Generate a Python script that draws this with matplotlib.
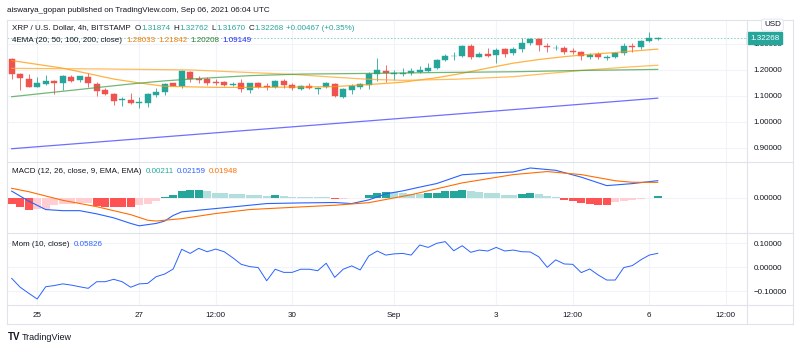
import numpy as np
import pandas as pd
import matplotlib
matplotlib.use('Agg')
import matplotlib.pyplot as plt
from matplotlib.lines import Line2D
import matplotlib.transforms as mtransforms

plt.rcParams['font.family'] = ['Liberation Sans', 'DejaVu Sans']

# ---- data (XRP/USD 4h) ----
start = pd.Timestamp('2021-08-24 12:00')
opens = [1.241, 1.185, 1.165, 1.136, 1.147, 1.159, 1.149, 1.174, 1.162, 1.174,
         1.146, 1.123, 1.108, 1.085, 1.085, 1.072, 1.074, 1.104, 1.117, 1.148,
         1.140, 1.191, 1.167, 1.164, 1.154, 1.153, 1.141, 1.151, 1.123, 1.149,
         1.138, 1.133, 1.159, 1.143, 1.126, 1.138, 1.128, 1.133, 1.146, 1.097,
         1.123, 1.136, 1.142, 1.183, 1.196, 1.184, 1.185, 1.187, 1.192, 1.196,
         1.207, 1.238, 1.253, 1.254, 1.292, 1.251, 1.262, 1.258, 1.281, 1.267,
         1.281, 1.305, 1.318, 1.292, 1.284, 1.283, 1.273, 1.268, 1.251, 1.260,
         1.247, 1.251, 1.264, 1.292, 1.290, 1.312, 1.31874]
highs = [1.245, 1.188, 1.184, 1.174, 1.181, 1.161, 1.179, 1.180, 1.178, 1.187,
         1.153, 1.131, 1.110, 1.097, 1.113, 1.097, 1.110, 1.131, 1.150, 1.151,
         1.198, 1.197, 1.177, 1.174, 1.164, 1.158, 1.155, 1.167, 1.151, 1.155,
         1.148, 1.161, 1.166, 1.151, 1.142, 1.148, 1.133, 1.153, 1.151, 1.129,
         1.145, 1.150, 1.193, 1.245, 1.219, 1.200, 1.207, 1.207, 1.217, 1.228,
         1.241, 1.262, 1.270, 1.296, 1.300, 1.268, 1.285, 1.283, 1.285, 1.287,
         1.324, 1.324, 1.322, 1.303, 1.294, 1.291, 1.284, 1.273, 1.265, 1.270,
         1.258, 1.268, 1.305, 1.305, 1.317, 1.347, 1.32762]
lows = [1.165, 1.123, 1.135, 1.136, 1.142, 1.108, 1.123, 1.154, 1.155, 1.136,
        1.101, 1.104, 1.065, 1.063, 1.069, 1.053, 1.059, 1.097, 1.104, 1.138,
        1.130, 1.154, 1.151, 1.141, 1.141, 1.138, 1.138, 1.115, 1.111, 1.131,
        1.123, 1.131, 1.131, 1.121, 1.124, 1.126, 1.107, 1.129, 1.095, 1.091,
        1.108, 1.127, 1.127, 1.159, 1.153, 1.161, 1.178, 1.180, 1.190, 1.191,
        1.204, 1.235, 1.238, 1.250, 1.241, 1.250, 1.250, 1.226, 1.250, 1.258,
        1.270, 1.296, 1.274, 1.270, 1.277, 1.263, 1.262, 1.238, 1.242, 1.242,
        1.240, 1.245, 1.256, 1.268, 1.280, 1.309, 1.31670]
closes = [1.184, 1.169, 1.136, 1.149, 1.158, 1.151, 1.177, 1.159, 1.177, 1.149,
          1.120, 1.108, 1.082, 1.088, 1.072, 1.078, 1.108, 1.117, 1.145, 1.140,
          1.194, 1.165, 1.163, 1.151, 1.150, 1.142, 1.147, 1.128, 1.149, 1.136,
          1.133, 1.158, 1.141, 1.129, 1.138, 1.131, 1.131, 1.149, 1.100, 1.127,
          1.138, 1.144, 1.183, 1.199, 1.187, 1.187, 1.190, 1.195, 1.199, 1.209,
          1.238, 1.254, 1.255, 1.292, 1.251, 1.262, 1.255, 1.277, 1.262, 1.281,
          1.305, 1.318, 1.296, 1.287, 1.286, 1.270, 1.268, 1.254, 1.258, 1.249,
          1.251, 1.264, 1.292, 1.290, 1.312, 1.322, 1.32268]

# EMA lines (candle index, value)
ema20_i = [0, 6, 12, 15, 18, 24, 30, 38, 43, 46, 50, 53, 56, 59, 62, 65, 68, 71, 74, 76]
ema20_v = [1.236, 1.207, 1.165, 1.150, 1.137, 1.133, 1.133, 1.136, 1.146, 1.153,
           1.170, 1.187, 1.207, 1.226, 1.240, 1.251, 1.260, 1.267, 1.275, 1.280]
ema50_i = [0, 10, 21, 28, 33, 38, 42, 46, 52, 59, 63, 67, 72, 76]
ema50_v = [1.206, 1.204, 1.200, 1.190, 1.183, 1.172, 1.164, 1.160, 1.164, 1.174,
           1.186, 1.198, 1.210, 1.218]
ema100_i = [0, 8, 14, 18, 22, 28, 34, 43, 50, 59, 67, 76]
ema100_v = [1.097, 1.125, 1.146, 1.158, 1.167, 1.178, 1.184, 1.187, 1.190, 1.193,
            1.198, 1.202]
ema200_i = [0, 20, 40, 60, 76]
ema200_v = [0.897, 0.948, 0.999, 1.050, 1.0915]

# MACD
hist = [-0.0079, -0.0113, -0.0146, -0.0142, -0.0133, -0.0092, -0.0075, -0.0071, -0.0068, -0.0063,
        -0.0100, -0.0108, -0.0110, -0.0112, -0.0113, -0.0092, -0.0071, -0.0038, 0.0013, 0.0033,
        0.0083, 0.0096, 0.0098, 0.0083, 0.0067, 0.0056, 0.0054, 0.0046, 0.0040, 0.0038,
        0.0025, 0.0033, 0.0025, 0.0015, 0.0013, 0.0008, 0.0007, 0.0005, -0.0017, -0.0010,
        -0.0004, 0.0004, 0.0042, 0.0063, 0.0075, 0.0073, 0.0063, 0.0052, 0.0050, 0.0058,
        0.0067, 0.0083, 0.0085, 0.0104, 0.0092, 0.0075, 0.0063, 0.0062, 0.0042, 0.0041,
        0.0054, 0.0063, 0.0046, 0.0021, 0.0008, -0.0029, -0.0042, -0.0063, -0.0075, -0.0083,
        -0.0084, -0.0054, -0.0042, -0.0021, -0.0008, 0.0004, 0.00211]
macd_i = [0, 2, 4, 6, 8, 10, 12, 14, 15, 17, 18, 19, 20, 22, 26, 30, 34, 38, 40, 42,
          44, 46, 48, 50, 53, 56, 59, 61, 64, 67, 70, 73, 76]
macd_v = [0.0085, -0.004, -0.0146, -0.016, -0.016, -0.020, -0.025, -0.032, -0.035, -0.032,
          -0.029, -0.022, -0.0175, -0.0154, -0.0113, -0.0071, -0.0063, -0.0058, -0.0071, -0.0025,
          0.005, 0.0088, 0.0135, 0.018, 0.029, 0.031, 0.0325, 0.0375, 0.0346, 0.026,
          0.0154, 0.0179, 0.02159]
signal_i = [0, 2, 6, 10, 14, 16, 17, 20, 24, 28, 34, 38, 42, 44, 47, 53, 59, 63, 67, 71, 73, 76]
signal_v = [0.012, 0.0078, -0.003, -0.011, -0.021, -0.028, -0.029, -0.026, -0.0196, -0.0146,
            -0.0113, -0.0092, -0.006, -0.002, 0.004, 0.0188, 0.0292, 0.033, 0.0292, 0.0215,
            0.0196, 0.01948]

# Momentum (10)
mom = [-0.046, -0.083, -0.108, -0.132, -0.081, -0.076, -0.069, -0.074, -0.081, -0.0875,
       -0.060, -0.060, -0.050, -0.060, -0.083, -0.069, -0.067, -0.039, -0.028, -0.007,
       0.075, 0.058, 0.079, 0.065, 0.076, 0.065, 0.040, 0.0125, 0.003, -0.001,
       -0.056, -0.008, -0.021, -0.021, -0.008, -0.008, -0.014, 0.017, -0.042, -0.008,
       0.006, -0.011, 0.047, 0.068, 0.051, 0.056, 0.058, 0.051, 0.093, 0.083,
       0.100, 0.107, 0.069, 0.090, 0.0625, 0.072, 0.068, 0.083, 0.068, 0.072,
       0.065, 0.064, 0.044, 0.0, 0.031, 0.014, 0.0125, -0.022, -0.007, -0.032,
       -0.053, -0.053, -0.001, 0.007, 0.031, 0.051, 0.05826]

tick_times = pd.to_datetime(['2021-08-25 00:00', '2021-08-27 00:00', '2021-08-28 12:00',
                             '2021-08-30 00:00', '2021-09-01 00:00', '2021-09-03 00:00',
                             '2021-09-04 12:00', '2021-09-06 00:00', '2021-09-07 12:00'])
tick_labels = ['25', '27', '12:00', '30', 'Sep', '3', '12:00', '6', '12:00']
price_ticks = [0.9, 1.0, 1.1, 1.2, 1.3]
mom_ticks = [-0.1, 0.0, 0.1]

# ---- colours ----
UP, DN = '#26a69a', '#ef5350'
TXT = '#131722'
GRID = '#f0f3fa'
BORDER = '#e0e3eb'

W, H = 800, 348
fig = plt.figure(figsize=(8, 3.48), dpi=100)
L, R = 7, 747


def pane(top, bot):
    return fig.add_axes([L / W, 1 - bot / H, (R - L) / W, (bot - top) / H])


ax1 = pane(20, 162)
ax2 = pane(162, 233)
ax3 = pane(233, 305)

tick_pos = (tick_times - start) / pd.Timedelta('4h')
for ax in (ax1, ax2, ax3):
    ax.set_xlim(-0.55, 86.5)
    for s in ax.spines.values():
        s.set_visible(False)
    ax.set_xticks(tick_pos)
    ax.grid(True, color=GRID, lw=0.8)
    ax.set_axisbelow(True)
    ax.yaxis.tick_right()
    ax.tick_params(axis='both', length=0, labelsize=5.8, colors=TXT, pad=4.5)
    ax.tick_params(axis='x', labelbottom=False)

# price pane
o = np.array(opens); c = np.array(closes)
idx = np.arange(len(o))
col = np.where(c >= o, UP, DN)
ax1.vlines(idx, lows, highs, colors=col, lw=0.7, alpha=0.85)
ax1.bar(idx, np.maximum(np.abs(c - o), 0.0015), bottom=np.minimum(o, c),
        width=0.7, color=col, edgecolor=col, lw=0.3)
ax1.plot(ema20_i, ema20_v, color='#ff9800', lw=0.9, alpha=0.75)
ax1.plot(ema50_i, ema50_v, color='#ffa726', lw=0.9, alpha=0.75)
ax1.plot(ema100_i, ema100_v, color='#43a047', lw=0.9, alpha=0.75)
ax1.plot(ema200_i, ema200_v, color='#3f3fff', lw=0.9, alpha=0.75)
ax1.axhline(closes[-1], color=UP, lw=0.6, ls=(0, (2, 2)), alpha=0.6)
ax1.set_ylim(0.846, 1.392)
ax1.set_yticks(price_ticks)
ax1.set_yticklabels(['%.5f' % v for v in price_ticks])
trans = mtransforms.blended_transform_factory(ax1.transAxes, ax1.transData)
ax1.text(1.004, closes[-1], '%.5f' % closes[-1], transform=trans, color='white',
         fontsize=5.8, va='center', ha='left',
         bbox=dict(boxstyle='square,pad=0.35', fc=UP, ec=UP))

# MACD pane
h = np.array(hist)
prev = np.concatenate([[h[0]], h[:-1]])
hcol = np.where(h >= 0, np.where(h >= prev, '#26a69a', '#b2dfdb'),
                np.where(h <= prev, '#ff5252', '#ffcdd2'))
ax2.bar(idx, h, width=0.92, color=hcol)
ax2.plot(macd_i, macd_v, color='#2962ff', lw=0.8)
ax2.plot(signal_i, signal_v, color='#ff6d00', lw=0.8)
ax2.set_ylim(-0.044, 0.045)
ax2.set_yticks([0.0])
ax2.set_yticklabels(['0.00000'])

# Momentum pane
ax3.plot(idx, mom, color='#2962ff', lw=0.7)
ax3.set_ylim(-0.157, 0.143)
ax3.set_yticks(mom_ticks)
ax3.set_yticklabels(['%.5f' % v if v >= 0 else '\u2212%.5f' % -v for v in mom_ticks])
ax3.tick_params(axis='x', labelbottom=True, pad=4.8)
ax3.set_xticklabels(tick_labels)

# frame lines
def fline(x0, y0, x1, y1):
    fig.add_artist(Line2D([x0 / W, x1 / W], [1 - y0 / H, 1 - y1 / H], color=BORDER, lw=0.8))

for y in (20, 162, 233, 305, 324):
    fline(L, y, 793, y)
fline(L, 20, L, 324)
fline(R, 20, R, 324)
fline(793, 20, 793, 324)


def seq_text(x, y, parts, size=5.8):
    # parts: (text, colour, gap after in px)
    r = fig.canvas.get_renderer()
    for s, cc, gap in parts:
        t = fig.text(x / W, 1 - y / H, s, color=cc, fontsize=size, va='center', ha='left')
        x += t.get_window_extent(renderer=r).width + gap


fig.text(7 / W, 1 - 10 / H, 'aiswarya_gopan published on TradingView.com, Sep 06, 2021 06:04 UTC',
         fontsize=5.8, color=TXT, va='center')
seq_text(12, 28, [('XRP / U.S. Dollar, 4h, BITSTAMP', TXT, 4), ('O', TXT, 0.3), ('1.31874', UP, 3),
                  ('H', TXT, 0.3), ('1.32762', UP, 3), ('L', TXT, 0.3), ('1.31670', UP, 3),
                  ('C', TXT, 0.3), ('1.32268', UP, 3), ('+0.00467 (+0.35%)', UP, 0)])
seq_text(12, 40, [('4EMA (20, 50, 100, 200, close)', TXT, 4), ('1.28033', '#f57c00', 3),
                  ('1.21842', '#f57c00', 3), ('1.20208', '#2e7d32', 3), ('1.09149', '#2323ff', 0)])
seq_text(12, 172, [('MACD (12, 26, close, 9, EMA, EMA)', TXT, 4), ('0.00211', UP, 3),
                   ('0.02159', '#2962ff', 3), ('0.01948', '#ff6d00', 0)])
seq_text(12, 244, [('Mom (10, close)', TXT, 4), ('0.05826', '#2962ff', 0)])

fig.text(764 / W, 1 - 25 / H, 'USD', fontsize=5.8, color=TXT, va='center',
         bbox=dict(boxstyle='round,pad=0.3', fc='white', ec=BORDER, lw=0.6))
fig.text(8 / W, 1 - 337 / H, 'TV', fontsize=7, fontweight='bold', color=TXT, va='center')
fig.text(22 / W, 1 - 337 / H, 'TradingView', fontsize=6.5, color=TXT, va='center')

fig.savefig('out.png', dpi=100, facecolor='white')
